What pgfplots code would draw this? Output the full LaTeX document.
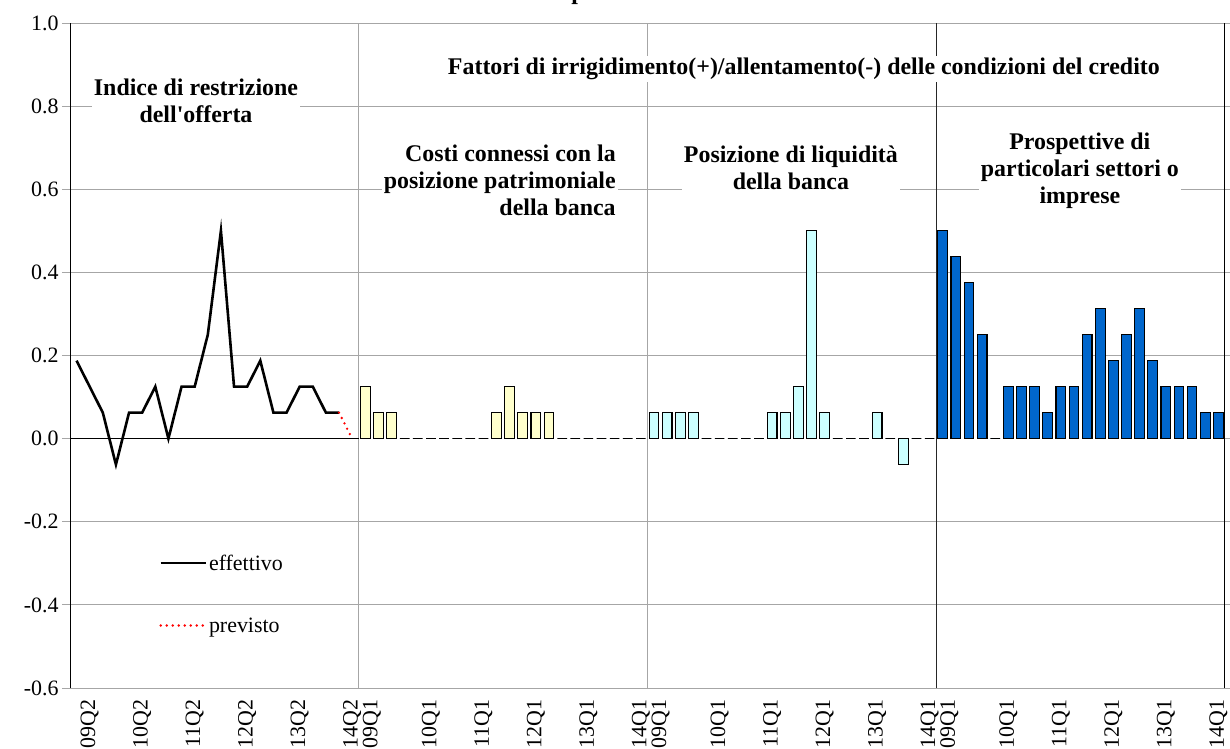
\documentclass[border=0pt]{standalone}
\usepackage{fontspec}
\setmainfont{Liberation Serif}[Ligatures=TeXOff]
\usepackage{pgfplots}
\pgfplotsset{compat=1.18}
\definecolor{barY}{HTML}{FFFFCC}
\definecolor{barC}{HTML}{CCFFFF}
\definecolor{barB}{HTML}{0066CC}
\newcommand\rfont{\fontsize{22}{25}\selectfont}
\newcommand\bfont{\fontsize{24}{27}\selectfont\bfseries}
\newcommand\ylab{\pgfmathprintnumber[fixed,fixed zerofill,precision=1,assume math mode=true]{\tick}}
\begin{document}
\begin{tikzpicture}
\begin{axis}[
  at={(70bp,61bp)}, anchor=south west,
  scale only axis, width=1155bp, height=665bp,
  xmin=-0.5, xmax=87.5, ymin=-0.6, ymax=1.0,
  clip=false,
  axis line style={draw=none},
  /pgf/number format/assume math mode=true,
  ytick={-0.6,-0.4,-0.2,0.2,0.4,0.6,0.8,1.0},
  yticklabel={\ylab},
  yticklabel style={font=\rfont},
  extra y ticks={0},
  extra y tick style={ymajorgrids=false, yticklabel={\ylab}, yticklabel style={font=\rfont}},
  ymajorgrids,
  major grid style={draw=gray!70, line width=0.8bp},
  tick align=outside,
  major tick length=8bp,
  ytick style={draw=gray!70, line width=0.8bp},
  xtick style={draw=none},
  xtick={1,5,9,13,17,21,22.5,27,31,35,39,43,44.5,49,53,57,61,65,66.5,71,75,79,83,87},
  xticklabels={09Q2,10Q2,11Q2,12Q2,13Q2,14Q2,09Q1,10Q1,11Q1,12Q1,13Q1,14Q1,09Q1,10Q1,11Q1,12Q1,13Q1,14Q1,09Q1,10Q1,11Q1,12Q1,13Q1,14Q1},
  xticklabel style={rotate=90, anchor=east, font=\rfont},
  legend style={draw=none, fill=none, font=\rfont, at={(axis cs:6.3,-0.374)}, anchor=west, row sep=42bp, inner sep=0pt},
  legend cell align=left,
  legend image code/.code={\draw[#1] (0bp,0bp) -- (45bp,0bp);},
]
% separators and borders
\draw[gray!70, line width=0.8bp] (axis cs:21.5,-0.6) -- (axis cs:21.5,1.0);
\draw[gray!70, line width=0.8bp] (axis cs:43.5,-0.6) -- (axis cs:43.5,1.0);
\draw[black!85, line width=0.8bp] (axis cs:65.5,-0.6) -- (axis cs:65.5,1.0);
\draw[black, line width=1bp] (rel axis cs:0,0) -- (rel axis cs:0,1);
\draw[black, line width=1bp] (rel axis cs:1,0) -- (rel axis cs:1,1);
\draw[black, line width=1bp] (axis cs:-0.5,0) -- (axis cs:21.5,0);

% panel 2: costi connessi con la posizione patrimoniale
\addplot[ybar, bar shift=0pt, bar width=0.74, fill=barY, draw=black, line width=1.1bp, forget plot] coordinates {
(22,0.125) (23,0.0625) (24,0.0625) (25,0) (26,0) (27,0) (28,0) (29,0) (30,0) (31,0)
(32,0.0625) (33,0.125) (34,0.0625) (35,0.0625) (36,0.0625)
(37,0) (38,0) (39,0) (40,0) (41,0) (42,0) (43,0)};
% panel 3: posizione di liquidita
\addplot[ybar, bar shift=0pt, bar width=0.74, fill=barC, draw=black, line width=1.1bp, forget plot] coordinates {
(44,0.0625) (45,0.0625) (46,0.0625) (47,0.0625) (48,0) (49,0) (50,0) (51,0) (52,0)
(53,0.0625) (54,0.0625) (55,0.125) (56,0.5) (57,0.0625) (58,0) (59,0) (60,0)
(61,0.0625) (62,0) (63,-0.0625) (64,0) (65,0)};
% panel 4: prospettive
\addplot[ybar, bar shift=0pt, bar width=0.74, fill=barB, draw=black, line width=1.1bp, forget plot] coordinates {
(66,0.5) (67,0.4375) (68,0.375) (69,0.25) (70,0) (71,0.125) (72,0.125) (73,0.125)
(74,0.0625) (75,0.125) (76,0.125) (77,0.25) (78,0.3125) (79,0.1875) (80,0.25)
(81,0.3125) (82,0.1875) (83,0.125) (84,0.125) (85,0.125) (86,0.0625) (87,0.0625)};

% panel 1: indice di restrizione
\addplot[black, line width=2.6bp] coordinates {
(0,0.1875) (1,0.125) (2,0.0625) (3,-0.0625) (4,0.0625) (5,0.0625) (6,0.125) (7,0)
(8,0.125) (9,0.125) (10,0.25) (11,0.5) (12,0.125) (13,0.125) (14,0.1875) (15,0.0625)
(16,0.0625) (17,0.125) (18,0.125) (19,0.0625) (20,0.0625)};
\addlegendentry{effettivo}
\addplot[red, line width=2.6bp, line cap=round, dash pattern=on 0bp off 6bp] coordinates {
(20,0.0625) (21,0)};
\addlegendentry{previsto}

% titles
\node[fill=white, align=center, font=\bfont, inner sep=2bp] at (axis cs:9.1,0.8135) {Indice di restrizione\\dell'offerta};
\node[fill=white, align=center, font=\bfont, inner sep=2bp] at (axis cs:55.42,0.889) {Fattori di irrigidimento(+)/allentamento(-) delle condizioni del credito};
\node[fill=white, align=right, font=\bfont, inner sep=2bp, anchor=east] at (axis cs:41.25,0.621) {Costi connessi con la\\posizione patrimoniale\\della banca};
\node[fill=white, align=center, font=\bfont, inner sep=2bp] at (axis cs:54.43,0.652) {Posizione di liquidità\\della banca};
\node[fill=white, align=center, font=\bfont, inner sep=2bp] at (axis cs:76.45,0.645) {Prospettive di\\particolari settori o\\imprese};
\end{axis}
\node[anchor=base west, inner sep=0pt, font=\bfont] at (542bp,749bp) {Imprese};
\pgfresetboundingbox
\useasboundingbox (0,0) rectangle (1230bp,749bp);
\end{tikzpicture}
\end{document}
